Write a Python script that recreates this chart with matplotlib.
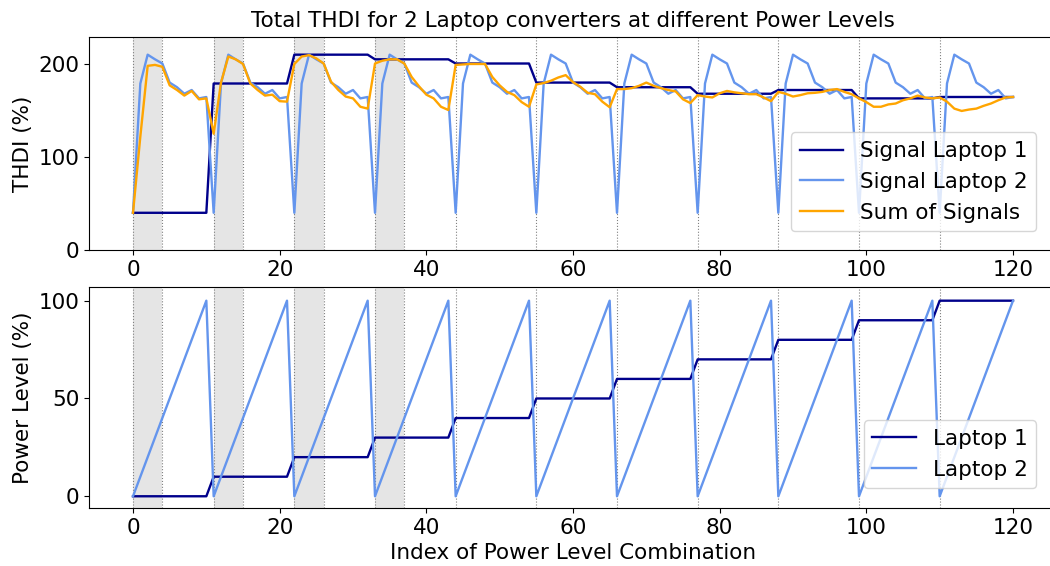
import matplotlib
matplotlib.use("Agg")
import matplotlib.pyplot as plt
import numpy as np

# ---------------- data ----------------
index = list(range(121))

thdi_laptop1 = [
    40, 40, 40, 40, 40, 40, 40, 40, 40, 40, 40,
    179, 179, 179, 179, 179, 179, 179, 179, 179, 179, 179,
    210, 210, 210, 210, 210, 210, 210, 210, 210, 210, 210,
    205, 205, 205, 205, 205, 205, 205, 205, 205, 205, 205,
    200.5, 200.5, 200.5, 200.5, 200.5, 200.5, 200.5, 200.5, 200.5, 200.5, 200.5,
    180, 180, 180, 180, 180, 180, 180, 180, 180, 180, 180,
    175, 175, 175, 175, 175, 175, 175, 175, 175, 175, 175,
    168, 168, 168, 168, 168, 168, 168, 168, 168, 168, 168,
    172, 172, 172, 172, 172, 172, 172, 172, 172, 172, 172,
    163, 163, 163, 163, 163, 163, 163, 163, 163, 163, 163,
    164.5, 164.5, 164.5, 164.5, 164.5, 164.5, 164.5, 164.5, 164.5, 164.5, 164.5,
]

thdi_laptop2 = [
    40, 179, 210, 205, 200.5, 180, 175, 168, 172, 163, 164.5,
    40, 179, 210, 205, 200.5, 180, 175, 168, 172, 163, 164.5,
    40, 179, 210, 205, 200.5, 180, 175, 168, 172, 163, 164.5,
    40, 179, 210, 205, 200.5, 180, 175, 168, 172, 163, 164.5,
    40, 179, 210, 205, 200.5, 180, 175, 168, 172, 163, 164.5,
    40, 179, 210, 205, 200.5, 180, 175, 168, 172, 163, 164.5,
    40, 179, 210, 205, 200.5, 180, 175, 168, 172, 163, 164.5,
    40, 179, 210, 205, 200.5, 180, 175, 168, 172, 163, 164.5,
    40, 179, 210, 205, 200.5, 180, 175, 168, 172, 163, 164.5,
    40, 179, 210, 205, 200.5, 180, 175, 168, 172, 163, 164.5,
    40, 179, 210, 205, 200.5, 180, 175, 168, 172, 163, 164.5,
]

thdi_sum = [
    40, 122, 198, 199, 197, 177, 172, 166, 171, 162, 163,
    125, 180, 208, 205, 200, 179, 172, 166, 167, 160, 159.5,
    200, 208, 209.5, 206, 200.5, 181, 172, 165, 163, 154, 152,
    200.5, 203.5, 205, 205, 200.5, 186, 176, 167, 163, 154, 150.5,
    199, 199.5, 200, 200, 200, 186, 177, 170, 166.5, 159, 154,
    178, 179.5, 182, 185.5, 188, 180.5, 175.5, 169, 167.5, 159.5, 153.5,
    173, 173, 174, 176.5, 180, 176.5, 174, 172, 170.5, 162, 158,
    166.5, 165, 164, 168.5, 171, 169.5, 168.5, 167.5, 167.5, 164, 160,
    170, 168, 165, 166.5, 168.5, 169, 170, 172, 173, 170, 167.5,
    163, 159, 154, 154, 156.5, 157.5, 161, 163, 166, 164, 163,
    164, 159.5, 152, 149.5, 151, 152, 155, 157.5, 161, 164, 164.5,
]

power_laptop1 = [
    0, 0, 0, 0, 0, 0, 0, 0, 0, 0, 0,
    10, 10, 10, 10, 10, 10, 10, 10, 10, 10, 10,
    20, 20, 20, 20, 20, 20, 20, 20, 20, 20, 20,
    30, 30, 30, 30, 30, 30, 30, 30, 30, 30, 30,
    40, 40, 40, 40, 40, 40, 40, 40, 40, 40, 40,
    50, 50, 50, 50, 50, 50, 50, 50, 50, 50, 50,
    60, 60, 60, 60, 60, 60, 60, 60, 60, 60, 60,
    70, 70, 70, 70, 70, 70, 70, 70, 70, 70, 70,
    80, 80, 80, 80, 80, 80, 80, 80, 80, 80, 80,
    90, 90, 90, 90, 90, 90, 90, 90, 90, 90, 90,
    100, 100, 100, 100, 100, 100, 100, 100, 100, 100, 100,
]

power_laptop2 = [
    0, 10, 20, 30, 40, 50, 60, 70, 80, 90, 100,
    0, 10, 20, 30, 40, 50, 60, 70, 80, 90, 100,
    0, 10, 20, 30, 40, 50, 60, 70, 80, 90, 100,
    0, 10, 20, 30, 40, 50, 60, 70, 80, 90, 100,
    0, 10, 20, 30, 40, 50, 60, 70, 80, 90, 100,
    0, 10, 20, 30, 40, 50, 60, 70, 80, 90, 100,
    0, 10, 20, 30, 40, 50, 60, 70, 80, 90, 100,
    0, 10, 20, 30, 40, 50, 60, 70, 80, 90, 100,
    0, 10, 20, 30, 40, 50, 60, 70, 80, 90, 100,
    0, 10, 20, 30, 40, 50, 60, 70, 80, 90, 100,
    0, 10, 20, 30, 40, 50, 60, 70, 80, 90, 100,
]

shaded_spans = [(0, 4), (11, 15), (22, 26), (33, 37)]
block_starts = [0, 11, 22, 33, 44, 55, 66, 77, 88, 99, 110]

# ---------------- style ----------------
C1 = "#00008B"
C2 = "#6495ED"
C3 = "#FFA500"
FS = 15.5

fig = plt.figure(figsize=(10.5, 5.66), dpi=100)
W, H = 1050, 566
left = 89 / W
width = 968 / W
ax1 = fig.add_axes([left, 1 - 250 / H, width, 213 / H])
ax2 = fig.add_axes([left, 1 - 508 / H, width, 221 / H])


def decorate(ax):
    for a, b in shaded_spans:
        ax.axvspan(a, b, color="#e5e5e5", zorder=0, lw=0)
        ax.axvline(b, color="gray", ls=":", lw=0.8, zorder=0.5)
    for s in block_starts:
        ax.axvline(s, color="gray", ls=":", lw=0.8, zorder=0.5)
    ax.set_xlim(-6, 126)
    ax.tick_params(labelsize=FS)


decorate(ax1)
ax1.plot(index, thdi_laptop1, color=C1, lw=1.7, label="Signal Laptop 1")
ax1.plot(index, thdi_laptop2, color=C2, lw=1.7, label="Signal Laptop 2")
ax1.plot(index, thdi_sum, color=C3, lw=1.7, label="Sum of Signals")
ax1.set_ylim(0, 229)
ax1.set_yticks([0, 100, 200])
ax1.set_xticks([0, 20, 40, 60, 80, 100, 120])
ax1.set_ylabel("THDI (%)", fontsize=FS)
ax1.set_title("Total THDI for 2 Laptop converters at different Power Levels",
              fontsize=FS, pad=7)
ax1.legend(loc="lower right", bbox_to_anchor=(1047 / W, 1 - 242 / H),
           bbox_transform=fig.transFigure, fontsize=FS)

decorate(ax2)
ax2.plot(index, power_laptop1, color=C1, lw=1.7, label="Laptop 1")
ax2.plot(index, power_laptop2, color=C2, lw=1.7, label="Laptop 2")
ax2.set_ylim(-6, 107)
ax2.set_yticks([0, 50, 100])
ax2.set_xticks([0, 20, 40, 60, 80, 100, 120])
ax2.set_ylabel("Power Level (%)", fontsize=FS)
ax2.set_xlabel("Index of Power Level Combination", fontsize=FS)
ax2.legend(loc="lower right", bbox_to_anchor=(1047 / W, 1 - 499 / H),
           bbox_transform=fig.transFigure, fontsize=FS)

fig.savefig("out.png", dpi=100)
